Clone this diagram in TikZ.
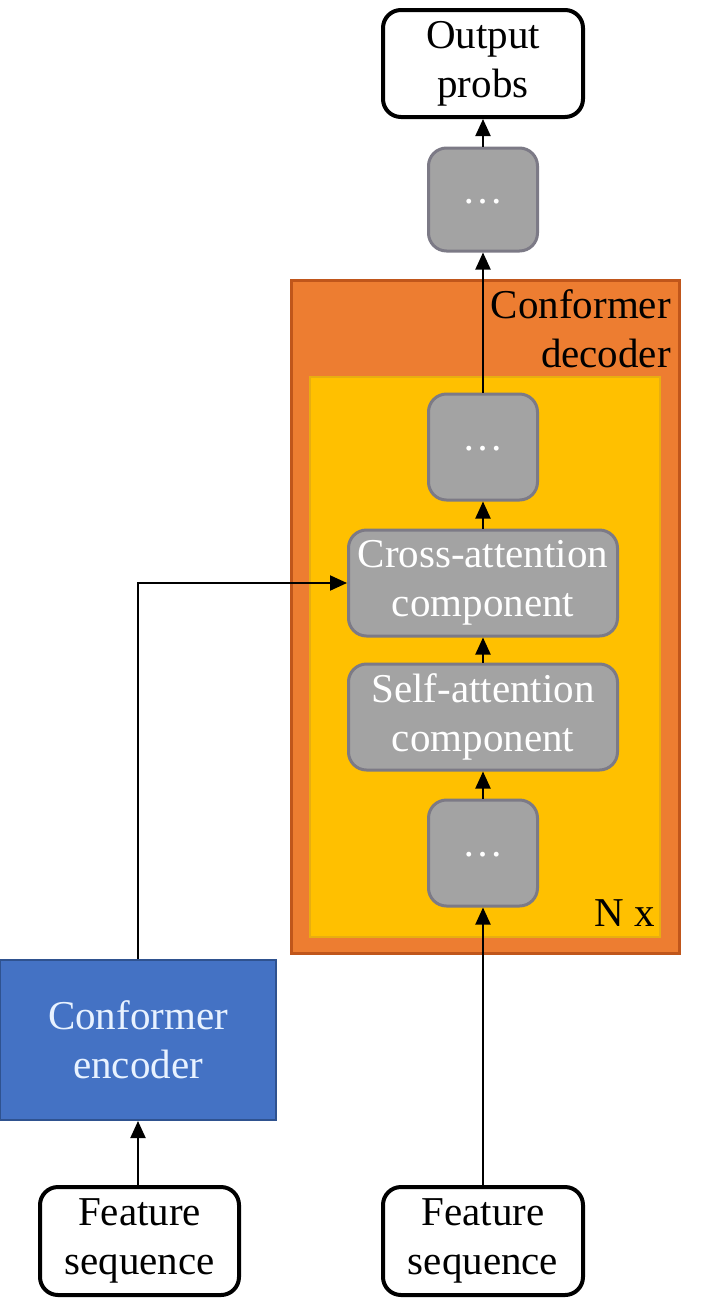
\documentclass[tikz,border=0pt]{standalone}
\usepackage{fontspec}
\setmainfont{Liberation Serif}
\usetikzlibrary{arrows.meta}
\definecolor{grayfill}{HTML}{A3A3A3}
\definecolor{grayedge}{HTML}{7C7A86}
\definecolor{orfill}{HTML}{ED7D31}
\definecolor{oredge}{HTML}{C0561B}
\definecolor{yefill}{HTML}{FFC000}
\definecolor{yeedge}{HTML}{E8AE10}
\definecolor{blfill}{HTML}{4472C4}
\definecolor{bledge}{HTML}{2F528F}
\definecolor{bltext}{HTML}{E8F2FF}
\tikzset{
  txt/.style={font=\fontsize{41}{49}\selectfont, align=center, inner sep=0pt},
  iobox/.style={txt, draw=black, line width=4pt, fill=white, rounded corners=18pt},
  graybox/.style={txt, draw=grayedge, line width=3pt, fill=grayfill, rounded corners=18pt, text=white},
  conn/.style={line width=2pt, -{Triangle[width=15pt,length=17pt]}},
  plain/.style={line width=2pt}
}
\begin{document}
\begin{tikzpicture}[x=1pt,y=-1pt]
\useasboundingbox (0,0) rectangle (708,1315);
% decoder containers
\node[draw=oredge, line width=3pt, fill=orfill, minimum width=388pt, minimum height=673pt, inner sep=0pt] (dec) at (485,616.5) {};
\node[draw=yeedge, line width=2pt, fill=yefill, minimum width=350pt, minimum height=560pt, inner sep=0pt] (blk) at (485,657) {};
\node[txt, anchor=north east, align=right] (declbl) at (671,289) {Conformer\\decoder};
\node[txt, anchor=base east] (nx) at (655,926) {N x};
% boxes
\node[iobox, minimum width=200pt, minimum height=107pt] (out) at (483,63.5) {Output\\probs};
\node[graybox, minimum width=109pt, minimum height=103pt] (tdots) at (483,199.5) {\raisebox{-8pt}{\dots}};
\node[graybox, minimum width=109pt, minimum height=106pt] (idots) at (483,447) {\raisebox{-8pt}{\dots}};
\node[graybox, minimum width=269pt, minimum height=106pt] (cross) at (483,583) {Cross-attention\\component};
\node[graybox, minimum width=269pt, minimum height=106pt] (self) at (483,717) {Self-attention\\component};
\node[graybox, minimum width=109pt, minimum height=106pt] (bdots) at (483,853) {\raisebox{-8pt}{\dots}};
\node[txt, draw=bledge, line width=2pt, fill=blfill, text=bltext, minimum width=276pt, minimum height=160pt] (enc) at (138,1040) {Conformer\\encoder};
\node[iobox, minimum width=199pt, minimum height=108pt] (lfeat) at (139.5,1241) {Feature\\sequence};
\node[iobox, minimum width=200pt, minimum height=108pt] (rfeat) at (483,1241) {Feature\\sequence};
% connectors
\draw[conn] (tdots) -- (out);
\draw[conn] (idots) -- (tdots);
\draw[conn] (cross) -- (idots);
\draw[conn] (self) -- (cross);
\draw[conn] (bdots) -- (self);
\draw[conn] (rfeat) -- (bdots);
\draw[conn] (lfeat.north -| enc.south) -- (enc.south);
\draw[conn] (enc.north) |- (cross.west);
\end{tikzpicture}
\end{document}
